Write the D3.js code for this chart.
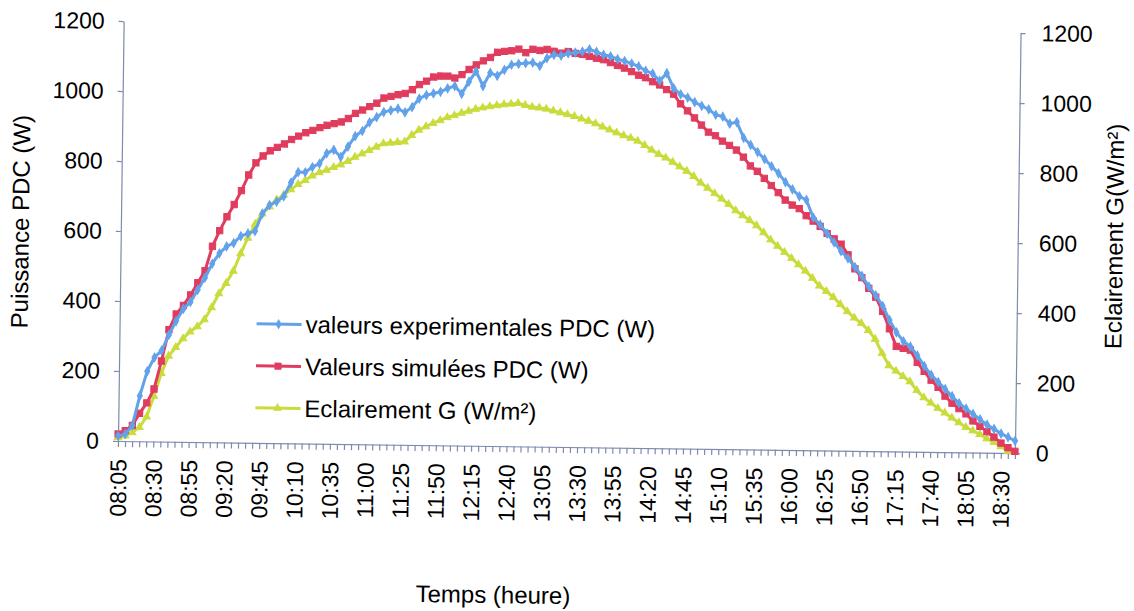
<!DOCTYPE html>
<html>
<head>
<meta charset="utf-8">
<script src="https://cdn.jsdelivr.net/npm/d3@7"></script>
<style>
body { margin: 0; background: #fff; }
text { font-family: "Liberation Sans", Arial, sans-serif; fill: #000; }
</style>
</head>
<body>
<svg width="1134" height="611"></svg>
<script>
var times = ["08:05","08:10","08:15","08:20","08:25","08:30","08:35","08:40","08:45","08:50","08:55",
"09:00","09:05","09:10","09:15","09:20","09:25","09:30","09:35","09:40","09:45","09:50","09:55",
"10:00","10:05","10:10","10:15","10:20","10:25","10:30","10:35","10:40","10:45","10:50","10:55",
"11:00","11:05","11:10","11:15","11:20","11:25","11:30","11:35","11:40","11:45","11:50","11:55",
"12:00","12:05","12:10","12:15","12:20","12:25","12:30","12:35","12:40","12:45","12:50","12:55",
"13:00","13:05","13:10","13:15","13:20","13:25","13:30","13:35","13:40","13:45","13:50","13:55",
"14:00","14:05","14:10","14:15","14:20","14:25","14:30","14:35","14:40","14:45","14:50","14:55",
"15:00","15:05","15:10","15:15","15:20","15:25","15:30","15:35","15:40","15:45","15:50","15:55",
"16:00","16:05","16:10","16:15","16:20","16:25","16:30","16:35","16:40","16:45","16:50","16:55",
"17:00","17:05","17:10","17:15","17:20","17:25","17:30","17:35","17:40","17:45","17:50","17:55",
"18:00","18:05","18:10","18:15","18:20","18:25","18:30","18:35","18:40"];

// valeurs experimentales PDC (W)
var experimental = [15,20,45,130,200,240,260,305,345,380,
400,435,470,510,540,560,570,590,598,605,
655,680,690,705,745,775,775,790,800,830,
840,820,850,880,895,920,935,950,955,960,
950,965,990,1000,1005,1010,1020,1027,1005,1040,
1070,1028,1066,1058,1075,1090,1093,1095,1097,1088,
1110,1120,1118,1125,1127,1130,1137,1130,1122,1118,
1110,1105,1098,1090,1078,1070,1050,1072,1029,1012,
1003,990,980,970,955,950,930,935,890,870,
850,830,810,790,765,745,725,715,665,645,
620,595,570,550,525,500,470,445,415,375,
340,315,300,275,245,220,200,180,160,140,
125,110,95,80,68,55,45,35];

// Valeurs simulées PDC (W)
var simulated = [20,30,45,80,110,150,230,320,365,390,
420,455,490,560,605,645,680,720,765,800,
820,835,845,855,868,878,888,895,903,910,
915,920,930,945,955,965,975,990,995,1000,
1004,1015,1030,1040,1052,1055,1055,1050,1060,1075,
1088,1100,1110,1125,1128,1130,1135,1125,1135,1132,
1135,1130,1125,1130,1125,1122,1117,1112,1108,1100,
1092,1085,1075,1065,1058,1047,1038,1025,1012,985,
965,945,925,905,895,880,868,855,835,810,
795,775,755,735,714,700,690,670,655,640,
620,605,590,560,520,495,465,440,400,350,
300,295,290,255,230,205,185,160,140,125,
110,90,75,60,45,28,15,5];

// Eclairement G (W/m²)
var irradiance = [10,15,25,40,70,130,195,245,270,295,
315,330,350,385,425,455,490,540,585,625,
655,675,695,710,725,740,752,765,775,782,
790,798,808,820,830,840,850,860,862,864,
866,885,900,910,920,928,937,943,950,956,
962,966,970,973,976,978,980,975,970,968,
965,960,955,950,945,938,932,925,916,908,
900,892,885,877,865,852,840,830,818,805,
793,778,760,745,730,715,700,682,668,655,
640,620,600,582,565,548,530,512,492,470,
455,438,418,398,380,365,345,320,280,245,
230,215,200,175,155,140,125,112,98,85,
72,62,52,40,30,18,5,2];

var yTicks = [0,200,400,600,800,1000,1200];
var y2Ticks = [0,200,400,600,800,1000,1200];
var legendLabels = ["valeurs experimentales PDC (W)","Valeurs simulées PDC (W)","Eclairement G (W/m²)"];

var svg = d3.select("svg");
var margin = {top: 21, left: 118};
var width = 897;
var height = 420;
var axisColor = "#7f8aae";

// whole sheet is slightly tilted, like the scanned original
var sheet = svg.append("g").attr("transform", "rotate(0.77," + margin.left + "," + (margin.top + height) + ")");
var plot = sheet.append("g").attr("transform", "translate(" + margin.left + "," + margin.top + ")");

var xScale = d3.scalePoint().domain(times).range([0, width]);
var yScale = d3.scaleLinear().domain([0, 1200]).range([height, 0]);
var y2Scale = d3.scaleLinear().domain([0, 1200]).range([height, 0]);

// axes
var xAxis = d3.axisBottom(xScale)
  .tickSize(6).tickSizeOuter(0).tickPadding(12)
  .tickFormat(function(d, i) { return i % 5 == 0 ? d : ""; });
var gx = plot.append("g").attr("transform", "translate(0," + height + ")").call(xAxis);
gx.selectAll("text")
  .attr("transform", "rotate(-90)")
  .attr("x", -18).attr("y", 0).attr("dy", "0.36em")
  .style("text-anchor", "end")
  .style("font-size", "23px");

var gy = plot.append("g").call(d3.axisLeft(yScale).tickValues(yTicks).tickFormat(d3.format("d"))
  .tickSize(5).tickSizeOuter(0).tickPadding(14));
gy.selectAll("text").style("font-size", "23px");

var gy2 = plot.append("g").attr("transform", "translate(" + width + ",0)")
  .call(d3.axisRight(y2Scale).tickValues(y2Ticks).tickFormat(d3.format("d"))
  .tickSize(5).tickSizeOuter(0).tickPadding(16));
gy2.selectAll("text").style("font-size", "23px");

plot.selectAll(".domain, .tick line").attr("stroke", axisColor).attr("stroke-width", 1.2);

// series
var series = [
  {name: legendLabels[0], values: experimental, color: "#62a2ea", symbol: d3.symbolDiamond, size: 22, scale: yScale},
  {name: legendLabels[1], values: simulated, color: "#e03c5e", symbol: d3.symbolSquare, size: 40, scale: yScale},
  {name: legendLabels[2], values: irradiance, color: "#c9dc3c", symbol: d3.symbolTriangle, size: 24, scale: y2Scale}
];
var drawOrder = [2, 1, 0];

drawOrder.forEach(function(k) {
  var s = series[k];
  var line = d3.line()
    .x(function(d, i) { return xScale(times[i]); })
    .y(function(d) { return s.scale(d); });
  plot.append("path")
    .datum(s.values)
    .attr("fill", "none")
    .attr("stroke", s.color)
    .attr("stroke-width", 3)
    .attr("d", line);
  plot.append("g").selectAll("path")
    .data(s.values)
    .enter()
    .append("path")
    .attr("d", d3.symbol().type(s.symbol).size(s.size))
    .attr("transform", function(d, i) { return "translate(" + xScale(times[i]) + "," + s.scale(d) + ")"; })
    .attr("fill", s.color)
    .attr("stroke", s.color)
    .attr("stroke-width", 1);
});

// legend
var legend = sheet.append("g").attr("transform", "translate(255,322)");
series.forEach(function(s, i) {
  var row = legend.append("g").attr("transform", "translate(0," + (i * 42) + ")");
  row.append("line").attr("x1", 0).attr("x2", 45).attr("y1", 0).attr("y2", 0)
    .attr("stroke", s.color).attr("stroke-width", 3);
  row.append("path").attr("d", d3.symbol().type(s.symbol).size(s.size + 10))
    .attr("transform", "translate(22,0)").attr("fill", s.color);
  row.append("text").attr("x", 49).attr("y", 0).attr("dy", "0.35em")
    .style("font-size", "24px").text(s.name);
});

// axis titles
sheet.append("text")
  .attr("transform", "translate(26,223) rotate(-90)")
  .style("text-anchor", "middle").style("font-size", "24px")
  .text("Puissance PDC (W)");

sheet.append("text")
  .attr("transform", "translate(1120,223) rotate(-90)")
  .style("text-anchor", "middle").style("font-size", "24px")
  .text("Eclairement G(W/m²)");

sheet.append("text")
  .attr("x", 495).attr("y", 598)
  .style("text-anchor", "middle").style("font-size", "24px")
  .text("Temps (heure)");
</script>
</body>
</html>
